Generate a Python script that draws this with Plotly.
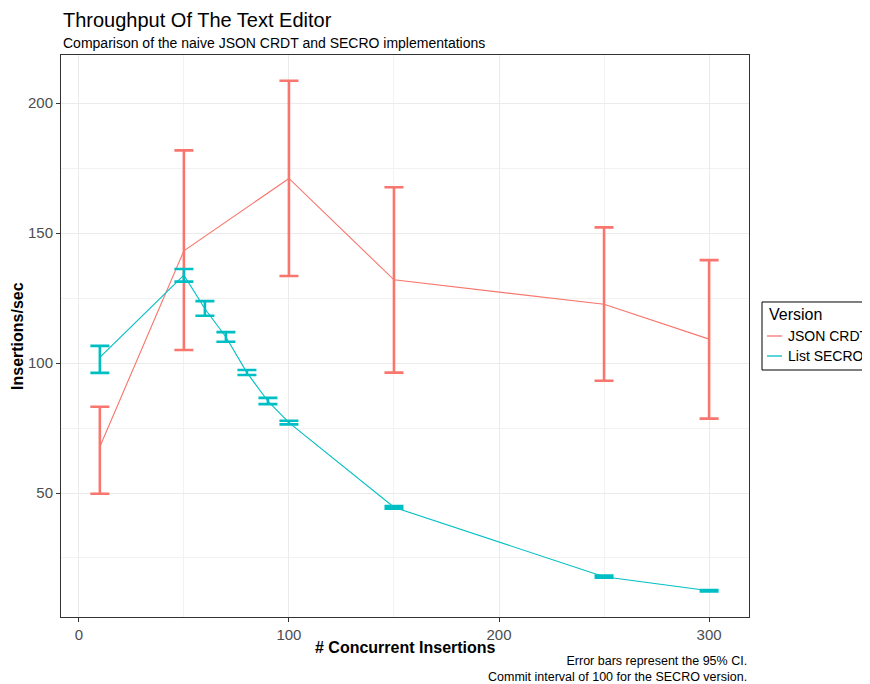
import plotly.graph_objects as go

# ---- data ----
concurrent = [10, 50, 100, 150, 250, 300]
json_mean = [67.8, 143.2, 171.0, 132.0, 122.6, 109.2]
json_low = [49.7, 105.0, 133.5, 96.3, 93.2, 78.6]
json_high = [83.2, 181.8, 208.6, 167.6, 152.2, 139.6]

secro_x = [10, 50, 60, 70, 80, 90, 100, 150, 250, 300]
secro_mean = [102.2, 133.8, 120.9, 110.0, 96.3, 85.3, 77.1, 44.5, 17.8, 12.4]
secro_low = [96.2, 131.3, 118.2, 108.2, 95.4, 84.2, 76.4, 44.0, 17.4, 12.1]
secro_high = [106.6, 136.2, 123.8, 111.9, 97.3, 86.6, 77.8, 45.0, 18.2, 12.7]

series_names = ["JSON CRDT", "List SECRO"]
colors = ["#F8766D", "#00BFC4"]
legend_title = "Version"

FONT = "Liberation Sans, Arial, Helvetica, sans-serif"

fig = go.Figure()

def add_series(xs, mean, low, high, name, color):
    fig.add_trace(go.Scatter(
        x=xs, y=mean, mode="lines", name=name, showlegend=False,
        line=dict(color=color, width=1.1),
        error_y=dict(
            type="data", symmetric=False,
            array=[h - m for h, m in zip(high, mean)],
            arrayminus=[m - l for m, l in zip(mean, low)],
            color=color, thickness=2.6, width=9.5,
        ),
    ))

add_series(concurrent, json_mean, json_low, json_high, series_names[0], colors[0])
add_series(secro_x, secro_mean, secro_low, secro_high, series_names[1], colors[1])

axis_common = dict(
    showline=True, linecolor="#333333", linewidth=1, mirror=True,
    ticks="outside", ticklen=4, tickcolor="#333333", tickwidth=1,
    tickfont=dict(family=FONT, size=15, color="#4D4D4D"),
    showgrid=True, gridcolor="#EBEBEB", gridwidth=1,
    zeroline=False,
)

# ggplot-style legend box (partly outside the figure on the right, as in the original)
shapes = [dict(type="rect", xref="paper", yref="paper",
               x0=1.0189, x1=1.30, y0=0.4395, y1=0.5605,
               line=dict(color="black", width=1), fillcolor="white", layer="above")]
legend_annots = [dict(text=legend_title, xref="paper", yref="paper",
                      x=1.0262, y=0.5391, xanchor="left", yanchor="middle", showarrow=False,
                      font=dict(family=FONT, size=16, color="black"))]
for i, (nm, col) in enumerate(zip(series_names, colors)):
    yy = 0.5 - i * 0.0356
    shapes.append(dict(type="line", xref="paper", yref="paper",
                       x0=1.0262, x1=1.048, y0=yy, y1=yy,
                       line=dict(color=col, width=1.3), layer="above"))
    legend_annots.append(dict(text=nm, xref="paper", yref="paper",
                              x=1.0545, y=yy, xanchor="left", yanchor="middle", showarrow=False,
                              font=dict(family=FONT, size=14, color="black")))

# The page body adds an 8px offset; margins compensate so the panel lands at 61..749 x 55..617
fig.update_layout(
    width=862, height=676,
    paper_bgcolor="white", plot_bgcolor="white",
    margin=dict(l=53, r=121, t=47, b=67, autoexpand=False),
    font=dict(family=FONT, color="black"),
    xaxis=dict(
        range=[-8.5, 319], tickvals=[0, 100, 200, 300],
        minor=dict(tickvals=[50, 150, 250], showgrid=True, gridcolor="#F2F2F2", gridwidth=0.8, ticks=""),
        **axis_common,
    ),
    yaxis=dict(
        range=[2.3, 218.5], tickvals=[50, 100, 150, 200],
        minor=dict(tickvals=[25, 75, 125, 175], showgrid=True, gridcolor="#F2F2F2", gridwidth=0.8, ticks=""),
        **axis_common,
    ),
    showlegend=False,
    shapes=shapes,
    annotations=[
        dict(text="Throughput Of The Text Editor", xref="paper", yref="paper",
             x=0, y=1.0623, xanchor="left", yanchor="middle", showarrow=False,
             font=dict(family=FONT, size=20, color="black")),
        dict(text="Comparison of the naive JSON CRDT and SECRO implementations", xref="paper", yref="paper",
             x=0, y=1.0214, xanchor="left", yanchor="middle", showarrow=False,
             font=dict(family=FONT, size=14, color="black")),
        dict(text="# Concurrent Insertions", xref="paper", yref="paper",
             x=0.5, y=-0.0545, xanchor="center", yanchor="middle", showarrow=False,
             font=dict(family=FONT, size=16, color="black", weight="bold")),
        dict(text="Insertions/sec", xref="paper", yref="paper", textangle=-90,
             x=-0.064, y=0.5, xanchor="center", yanchor="middle", showarrow=False,
             font=dict(family=FONT, size=16, color="black", weight="bold")),
        dict(text="Error bars represent the 95% CI.<br>Commit interval of 100 for the SECRO version.",
             xref="paper", yref="paper", x=1, y=-0.0925, xanchor="right", yanchor="middle",
             align="right", showarrow=False,
             font=dict(family=FONT, size=12.5, color="black")),
    ] + legend_annots,
)

fig.write_html("out.html")
